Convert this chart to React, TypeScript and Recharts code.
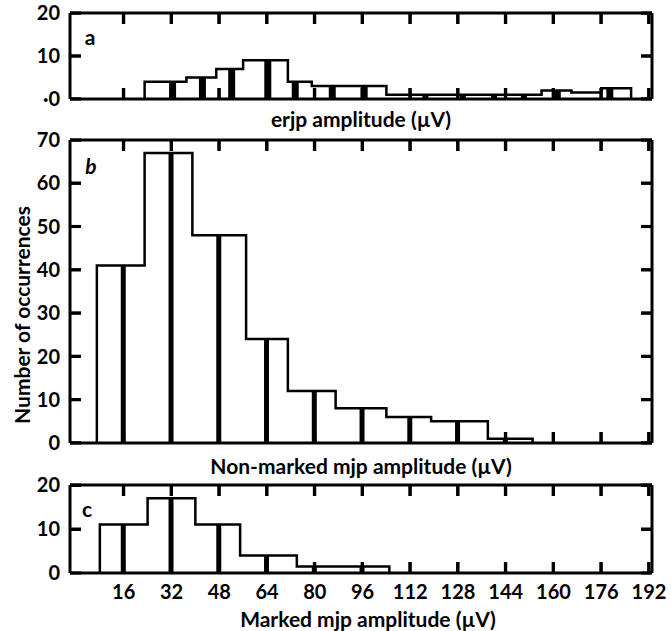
import React from "react";
import { ComposedChart, Line, Bar, XAxis, YAxis, ReferenceLine } from "recharts";

// ---------- data ----------
// shared x axis (µV)
const xTicks = [16, 32, 48, 64, 80, 96, 112, 128, 144, 160, 176, 192];
const xDomain = [-2, 193];

// panel a : erjp amplitude
const aEdges = [23, 37, 47, 56, 71, 79, 104, 156, 166, 176, 186];
const aCounts = [4, 5, 7, 9, 4, 3, 1, 2, 1.5, 2.5];
const aWideCentres = [32.5, 42.5, 52.3, 64.4, 73.6, 86, 96.7, 161.4, 179];
const aWideCounts = [4, 5, 7, 9, 4, 3, 3, 2, 2.5];
const aNarrowCentres = [117, 129.5, 140, 150];
const aNarrowCounts = [1, 1, 1, 1];
const aYTicks = [0, 10, 20];
const aYLabels = ["·0", "10", "20"];

// panel b : non-marked mjp amplitude
const bEdges = [7, 23, 39, 57, 71, 87, 104, 119, 138, 153];
const bCounts = [41, 67, 48, 24, 12, 8, 6, 5, 1];
const bCentres = [16, 32, 48, 64, 80, 96, 112, 128, 144];
const bYTicks = [0, 10, 20, 30, 40, 50, 60, 70];

// panel c : marked mjp amplitude
const cEdges = [8, 24, 40, 55, 74, 105];
const cCounts = [11, 17, 11, 4, 1.5];
const cCentres = [16, 32, 48, 64, 80, 96];
const cBarCounts = [11, 17, 11, 4, 1.5, 1.5];
const cYTicks = [0, 10, 20];

// ---------- helpers ----------
function outline(edges: number[], counts: number[]) {
  const pts: { x: number; y: number }[] = [{ x: edges[0], y: 0 }];
  counts.forEach((c, i) => pts.push({ x: edges[i], y: c }));
  pts.push({ x: edges[edges.length - 1], y: counts[counts.length - 1] });
  pts.push({ x: edges[edges.length - 1], y: 0 });
  return pts;
}

const FONT = "Lato, 'Open Sans', sans-serif";
const SW = 3; // frame
const HW = 2.5; // histogram outline
const TICK_LEN = 11; // px
const PLOT_W = 582; // px
const X_SPAN = xDomain[1] - xDomain[0];
const tickStyle = { fontSize: 20, fontWeight: 700, fill: "#000", fontFamily: FONT };
const noLabel = () => "";

type PanelProps = {
  top: number;
  height: number;
  margin: { top: number; bottom: number };
  edges: number[];
  counts: number[];
  rows: any[];
  yMax: number;
  yTicks: number[];
  yLabels?: string[];
  showXLabels?: boolean;
  bottomAxisHeight: number;
  narrow?: boolean;
  barSize: number;
};

function Panel(p: PanelProps) {
  const line = outline(p.edges, p.counts);
  const plotH = p.height - p.margin.top - p.margin.bottom - p.bottomAxisHeight;
  const tY = (TICK_LEN / plotH) * p.yMax;
  const tX = (TICK_LEN / PLOT_W) * X_SPAN;

  const vTickRows = xTicks.map((x) => ({ x, v: tY }));
  const hTickRows = p.yTicks.map((y) => ({ y, v: tX }));

  const overlayMargin = {
    top: p.margin.top,
    bottom: p.margin.bottom + p.bottomAxisHeight,
    left: 70,
    right: 19,
  };
  const layer: React.CSSProperties = { position: "absolute", left: 0, top: 0 };
  const tickLineStyle = { stroke: "#000", strokeWidth: SW };

  return (
    <div style={{ position: "absolute", left: 0, top: p.top, width: 671, height: p.height }}>
      <div style={layer}>
        <ComposedChart
          width={671}
          height={p.height}
          data={p.rows}
          margin={{ top: p.margin.top, bottom: p.margin.bottom, left: 10, right: 19 }}
        >
          {/* mirrored axes: inward tick marks on all four sides */}
          <XAxis
            xAxisId="bm"
            dataKey="x"
            type="number"
            domain={xDomain}
            allowDataOverflow
            ticks={xTicks}
            interval={0}
            mirror
            height={1}
            axisLine={false}
            tickLine={tickLineStyle}
            tickSize={TICK_LEN}
            tickFormatter={noLabel}
          />
          <XAxis
            xAxisId="tm"
            orientation="top"
            dataKey="x"
            type="number"
            domain={xDomain}
            allowDataOverflow
            ticks={xTicks}
            interval={0}
            mirror
            height={1}
            axisLine={false}
            tickLine={tickLineStyle}
            tickSize={TICK_LEN}
            tickFormatter={noLabel}
          />
          <YAxis
            yAxisId="lm"
            type="number"
            domain={[0, p.yMax]}
            allowDataOverflow
            ticks={p.yTicks}
            interval={0}
            mirror
            width={1}
            axisLine={false}
            tickLine={tickLineStyle}
            tickSize={TICK_LEN}
            tickFormatter={noLabel}
          />
          <YAxis
            yAxisId="rm"
            orientation="right"
            type="number"
            domain={[0, p.yMax]}
            allowDataOverflow
            ticks={p.yTicks}
            interval={0}
            mirror
            width={1}
            axisLine={false}
            tickLine={tickLineStyle}
            tickSize={TICK_LEN}
            tickFormatter={noLabel}
          />

          <XAxis
            xAxisId={0}
            dataKey="x"
            type="number"
            domain={xDomain}
            allowDataOverflow
            ticks={xTicks}
            interval={0}
            height={p.bottomAxisHeight}
            axisLine={{ stroke: "#000", strokeWidth: SW }}
            tickLine={false}
            tickSize={0}
            tickMargin={12}
            tick={p.showXLabels ? tickStyle : false}
          />
          <XAxis xAxisId="n" dataKey="x" type="number" domain={xDomain} allowDataOverflow hide />
          <YAxis
            yAxisId={0}
            type="number"
            domain={[0, p.yMax]}
            allowDataOverflow
            ticks={p.yTicks}
            interval={0}
            width={60}
            axisLine={{ stroke: "#000", strokeWidth: SW }}
            tickLine={false}
            tickSize={0}
            tickMargin={10}
            tick={tickStyle}
            tickFormatter={(v: number) => {
              const i = p.yTicks.indexOf(v);
              return p.yLabels && i >= 0 ? p.yLabels[i] : String(v);
            }}
          />
          <ReferenceLine xAxisId={0} yAxisId={0} y={p.yMax} stroke="#000" strokeWidth={SW} />
          <ReferenceLine xAxisId={0} yAxisId={0} x={xDomain[1]} stroke="#000" strokeWidth={SW} />
          <Bar
            dataKey="w"
            xAxisId={0}
            yAxisId={0}
            fill="#000"
            barSize={p.barSize}
            isAnimationActive={false}
          />
          {p.narrow && (
            <Bar
              dataKey="nw"
              xAxisId="n"
              yAxisId={0}
              fill="#000"
              barSize={6}
              isAnimationActive={false}
            />
          )}
          <Line
            data={line}
            dataKey="y"
            xAxisId={0}
            yAxisId={0}
            type="stepAfter"
            stroke="#000"
            strokeWidth={HW}
            dot={false}
            activeDot={false}
            isAnimationActive={false}
          />
          {/* invisible copies that bind the mirrored tick axes */}
          <Line
            data={line}
            dataKey="y"
            xAxisId="bm"
            yAxisId="lm"
            type="stepAfter"
            stroke="#000"
            strokeOpacity={0}
            dot={false}
            activeDot={false}
            isAnimationActive={false}
          />
          <Line
            data={line}
            dataKey="y"
            xAxisId="tm"
            yAxisId="rm"
            type="stepAfter"
            stroke="#000"
            strokeOpacity={0}
            dot={false}
            activeDot={false}
            isAnimationActive={false}
          />
        </ComposedChart>
      </div>

      {/* bottom tick marks (pointing up) */}
      <div style={layer}>
        <ComposedChart width={671} height={p.height} data={vTickRows} margin={overlayMargin}>
          <XAxis dataKey="x" type="number" domain={xDomain} allowDataOverflow hide />
          <YAxis type="number" domain={[0, p.yMax]} allowDataOverflow hide />
          <Bar dataKey="v" fill="#000" barSize={3} isAnimationActive={false} />
        </ComposedChart>
      </div>
      {/* top tick marks (pointing down) */}
      <div style={layer}>
        <ComposedChart width={671} height={p.height} data={vTickRows} margin={overlayMargin}>
          <XAxis dataKey="x" type="number" domain={xDomain} allowDataOverflow hide />
          <YAxis type="number" domain={[0, p.yMax]} allowDataOverflow reversed hide />
          <Bar dataKey="v" fill="#000" barSize={3} isAnimationActive={false} />
        </ComposedChart>
      </div>
      {/* left tick marks (pointing right) */}
      <div style={layer}>
        <ComposedChart
          width={671}
          height={p.height}
          data={hTickRows}
          layout="vertical"
          margin={overlayMargin}
        >
          <XAxis type="number" domain={[0, X_SPAN]} allowDataOverflow hide />
          <YAxis dataKey="y" type="number" domain={[0, p.yMax]} allowDataOverflow hide />
          <Bar dataKey="v" fill="#000" barSize={3} isAnimationActive={false} />
        </ComposedChart>
      </div>
      {/* right tick marks (pointing left) */}
      <div style={layer}>
        <ComposedChart
          width={671}
          height={p.height}
          data={hTickRows}
          layout="vertical"
          margin={overlayMargin}
        >
          <XAxis type="number" domain={[0, X_SPAN]} allowDataOverflow reversed hide />
          <YAxis dataKey="y" type="number" domain={[0, p.yMax]} allowDataOverflow hide />
          <Bar dataKey="v" fill="#000" barSize={3} isAnimationActive={false} />
        </ComposedChart>
      </div>
    </div>
  );
}

const textBase: React.CSSProperties = {
  position: "absolute",
  fontFamily: FONT,
  fontWeight: 700,
  color: "#000",
  whiteSpace: "nowrap",
  lineHeight: 1,
};

function Centered({ x, y, size, children, italic }: any) {
  return (
    <div
      style={{
        ...textBase,
        left: x,
        top: y,
        fontSize: size,
        fontStyle: italic ? "italic" : "normal",
        transform: "translate(-50%, -50%)",
      }}
    >
      {children}
    </div>
  );
}

export default function App() {
  const aRows = [
    ...aWideCentres.map((x, i) => ({ x, w: aWideCounts[i] })),
    ...aNarrowCentres.map((x, i) => ({ x, nw: aNarrowCounts[i] })),
  ].sort((m, n) => m.x - n.x);
  const bRows = bCentres.map((x, i) => ({ x, w: bCounts[i] }));
  const cRows = cCentres.map((x, i) => ({ x, w: cBarCounts[i] }));

  return (
    <div
      style={{
        position: "absolute",
        left: 0,
        top: 0,
        width: 671,
        height: 631,
        background: "#fff",
        overflow: "hidden",
      }}
    >
      <Panel
        top={0}
        height={110}
        margin={{ top: 13, bottom: 10 }}
        edges={aEdges}
        counts={aCounts}
        rows={aRows}
        yMax={20}
        yTicks={aYTicks}
        yLabels={aYLabels}
        bottomAxisHeight={1}
        narrow
        barSize={10}
      />
      <Panel
        top={120}
        height={340}
        margin={{ top: 20, bottom: 16 }}
        edges={bEdges}
        counts={bCounts}
        rows={bRows}
        yMax={70}
        yTicks={bYTicks}
        bottomAxisHeight={1}
        barSize={5}
      />
      <Panel
        top={465}
        height={166}
        margin={{ top: 20, bottom: 18 }}
        edges={cEdges}
        counts={cCounts}
        rows={cRows}
        yMax={20}
        yTicks={cYTicks}
        bottomAxisHeight={40}
        showXLabels
        barSize={5}
      />

      <Centered x={90} y={36} size={21}>a</Centered>
      <Centered x={91} y={165} size={21} italic>b</Centered>
      <Centered x={87} y={508} size={21}>c</Centered>

      <Centered x={361} y={118} size={21}>erjp amplitude (µV)</Centered>
      <Centered x={361} y={465} size={21}>Non-marked mjp amplitude (µV)</Centered>
      <Centered x={368} y={618} size={21}>Marked mjp amplitude (µV)</Centered>

      <div
        style={{
          ...textBase,
          left: 21,
          top: 315,
          fontSize: 21,
          transform: "translate(-50%, -50%) rotate(-90deg)",
        }}
      >
        Number of occurrences
      </div>
    </div>
  );
}
